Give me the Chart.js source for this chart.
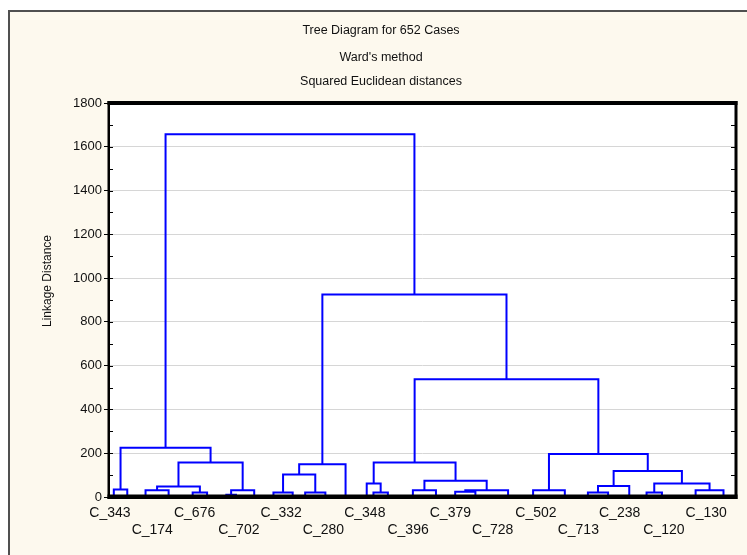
<!DOCTYPE html>
<html>
<head>
<meta charset="utf-8">
<title>Tree Diagram for 652 Cases</title>
<script src="https://cdn.jsdelivr.net/npm/chart.js@4.4.0/dist/chart.umd.min.js"></script>
<style>
  html, body { margin: 0; padding: 0; background: #fff; }
  canvas { display: block; }
</style>
</head>
<body>
<canvas id="tree" width="747" height="555"></canvas>
<script>
// titles
const titleLines = ['Tree Diagram for 652 Cases', "Ward's method", 'Squared Euclidean distances'];
const yTitle = 'Linkage Distance';

// terminal groups, position along the case order (0..652)
const leafPos = [5, 19, 38, 62, 87, 102, 122, 132, 151, 171, 191, 204, 225, 246, 268, 275,
                 290, 316, 340, 360, 381, 415, 441, 474, 498, 519, 541, 559, 575, 610, 639];

// merges (Ward): ids 0..30 are the groups above, every merge gets the next id
const mergeLeft   = [0, 2, 4, 32, 6, 35, 34, 31, 9, 11, 39, 41, 15, 14, 17, 19, 46, 45, 44,
                     22, 24, 51, 27, 29, 53, 52, 50, 49, 42, 38];
const mergeRight  = [1, 3, 5, 33, 7, 8, 36, 37, 10, 12, 40, 13, 16, 43, 18, 20, 21, 47, 48,
                     23, 25, 26, 28, 30, 54, 55, 56, 57, 58, 59];
const mergeHeight = [34, 31, 20, 48, 10, 31, 158, 225, 20, 20, 103, 150, 20, 62, 31, 24, 31, 74, 158,
                     31, 20, 50, 20, 31, 62, 119, 196, 538, 925, 1657];

// case labels on the x axis
const caseLabels = ['C_343', 'C_174', 'C_676', 'C_702', 'C_332', 'C_280', 'C_348', 'C_396',
                    'C_379', 'C_728', 'C_502', 'C_713', 'C_238', 'C_120', 'C_130'];
const labelPos = [1, 45, 89, 135, 179, 223, 266, 311, 355, 399, 444, 488, 531, 577, 621];

const yMin = 0, yMax = 1800, yStep = 100, yLabelStep = 200;
const caseCount = 652;

// node positions: groups first, then each merge sits midway over its two children
const nodeX = leafPos.slice();
const nodeH = leafPos.map(() => 0);
mergeLeft.forEach((l, i) => {
  const r = mergeRight[i];
  nodeX.push((nodeX[l] + nodeX[r]) / 2);
  nodeH.push(mergeHeight[i]);
});

const datasets = mergeLeft.map((l, i) => {
  const r = mergeRight[i];
  const h = mergeHeight[i];
  return {
    data: [
      { x: nodeX[l], y: nodeH[l] },
      { x: nodeX[l], y: h },
      { x: nodeX[r], y: h },
      { x: nodeX[r], y: nodeH[r] }
    ],
    showLine: true,
    borderColor: '#0000ff',
    borderWidth: 2,
    pointRadius: 0,
    tension: 0,
    fill: false
  };
});

const FONT = '"Liberation Sans", Arial, sans-serif';

const framePlugin = {
  id: 'framePlugin',
  beforeDraw(chart) {
    const { ctx, width, height, chartArea: a } = chart;
    ctx.save();
    ctx.fillStyle = '#ffffff';
    ctx.fillRect(0, 0, width, height);
    ctx.fillStyle = '#fdf9ee';
    ctx.fillRect(9, 11, width - 9, height - 11);
    ctx.strokeStyle = '#505050';
    ctx.lineWidth = 2;
    ctx.beginPath();
    ctx.moveTo(9, height);
    ctx.lineTo(9, 11);
    ctx.lineTo(width, 11);
    ctx.stroke();
    ctx.fillStyle = '#ffffff';
    ctx.fillRect(a.left, a.top, a.right - a.left, a.bottom - a.top);

    ctx.fillStyle = '#111111';
    ctx.textAlign = 'center';
    ctx.textBaseline = 'middle';
    ctx.font = '12.5px ' + FONT;
    const ty = [31, 58, 82];
    titleLines.forEach((t, i) => ctx.fillText(t, 381, ty[i]));

    ctx.font = '12px ' + FONT;
    ctx.translate(48, 281);
    ctx.rotate(-Math.PI / 2);
    ctx.fillText(yTitle, 0, 0);
    ctx.restore();
  },
  afterDatasetsDraw(chart) {
    const { ctx, chartArea: a } = chart;
    const y = chart.scales.y;
    ctx.save();
    ctx.fillStyle = '#000000';
    const w = a.right - a.left, h = a.bottom - a.top;
    ctx.fillRect(a.left - 1.5, a.top - 2, w + 3, 4);       // top
    ctx.fillRect(a.left - 1.5, a.bottom - 2.5, w + 3, 4.5); // bottom
    ctx.fillRect(a.left - 1.5, a.top - 2, 2.5, h + 4);     // left
    ctx.fillRect(a.right - 1.5, a.top - 2, 3, h + 4);      // right
    ctx.strokeStyle = '#000000';
    ctx.lineWidth = 1;
    ctx.beginPath();
    for (let v = yMin + yStep; v < yMax; v += yStep) {
      const py = Math.round(y.getPixelForValue(v)) + 0.5;
      ctx.moveTo(a.left, py);
      ctx.lineTo(a.left + 4, py);
      ctx.moveTo(a.right - 5, py);
      ctx.lineTo(a.right, py);
    }
    ctx.stroke();
    ctx.restore();
  }
};

new Chart(document.getElementById('tree'), {
  type: 'scatter',
  data: { datasets },
  options: {
    responsive: false,
    devicePixelRatio: 1,
    animation: false,
    layout: { padding: { top: 103, right: 11, bottom: 0, left: 0 } },
    plugins: { legend: { display: false }, tooltip: { enabled: false } },
    scales: {
      x: {
        type: 'linear',
        position: 'bottom',
        min: 0,
        max: caseCount,
        grid: { display: false, drawTicks: false },
        border: { display: false },
        afterBuildTicks: scale => { scale.ticks = labelPos.map(v => ({ value: v })); },
        afterFit: scale => { scale.height = 58; },
        ticks: {
          autoSkip: false,
          maxRotation: 0,
          minRotation: 0,
          padding: 8,
          color: '#111111',
          font: { family: FONT, size: 14 },
          callback: (value, index) => index % 2 === 0 ? caseLabels[index] : ['', caseLabels[index]]
        }
      },
      y: {
        min: yMin,
        max: yMax,
        border: { display: false },
        afterFit: scale => { scale.width = 109; },
        grid: {
          color: c => c.tick && c.tick.value % yLabelStep === 0 ? '#d6d6d6' : 'rgba(0,0,0,0)',
          tickColor: c => c.tick && c.tick.value % yLabelStep === 0 ? '#000000' : 'rgba(0,0,0,0)',
          tickLength: 5,
          lineWidth: 1
        },
        ticks: {
          stepSize: yStep,
          autoSkip: false,
          padding: 2,
          color: '#111111',
          font: { family: FONT, size: 13 },
          callback: v => v % yLabelStep === 0 ? v : ''
        }
      }
    }
  },
  plugins: [framePlugin]
});
</script>
</body>
</html>
